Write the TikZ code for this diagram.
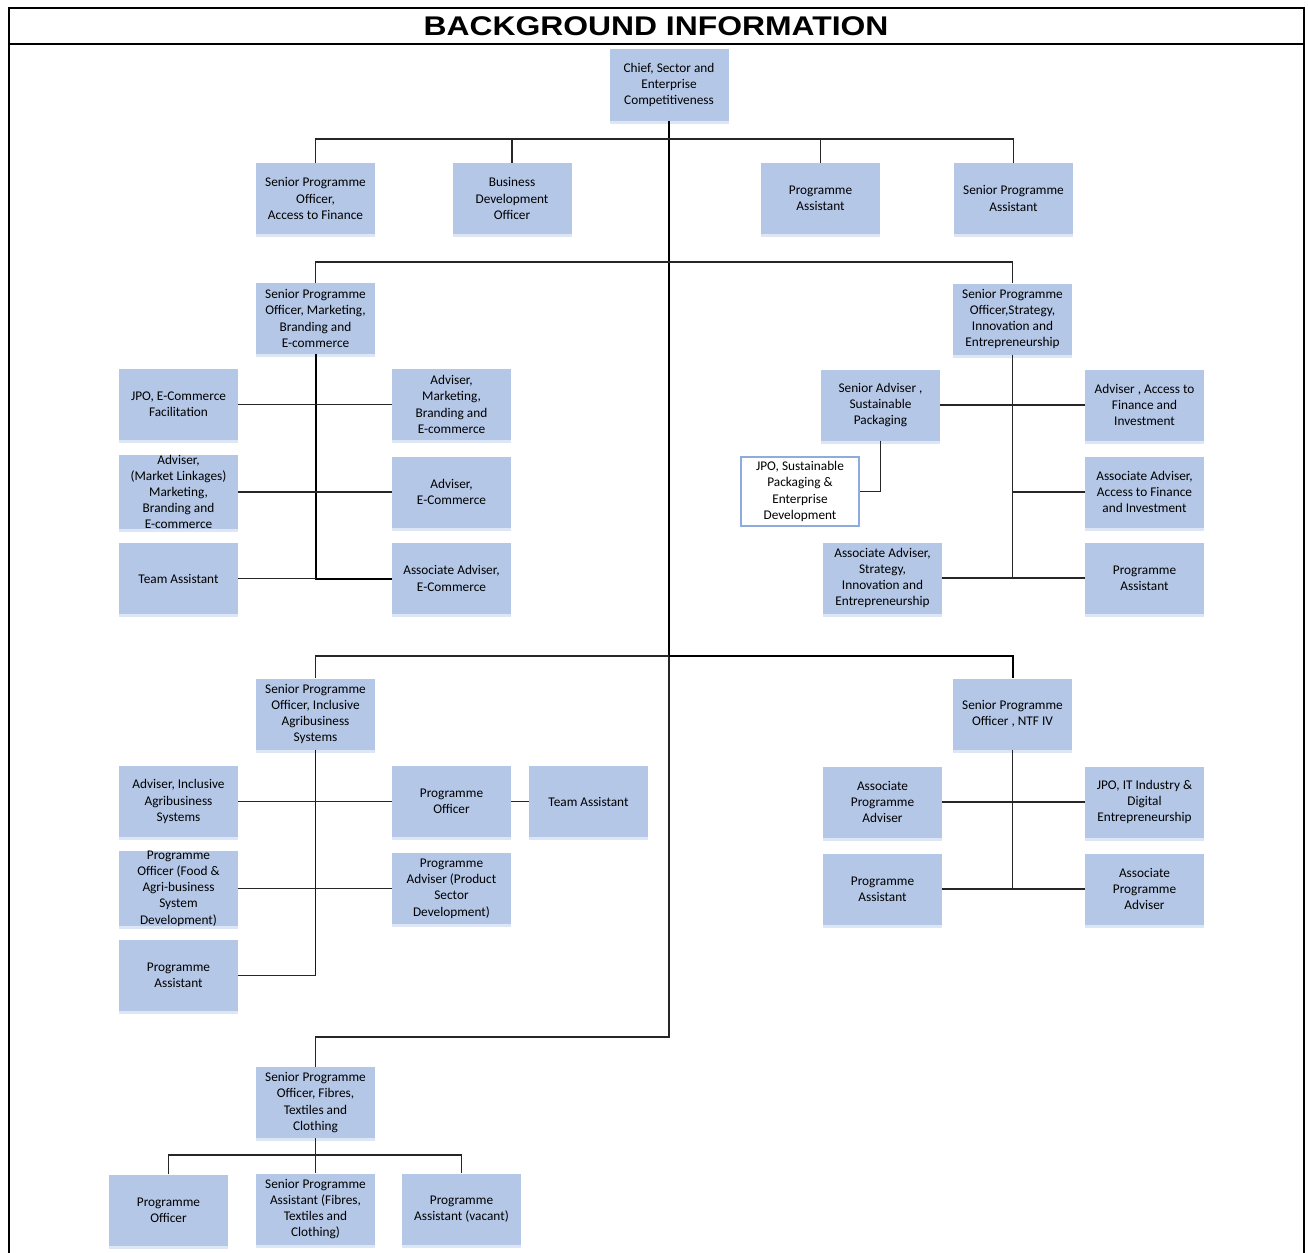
\documentclass[tikz,border=0pt]{standalone}
\usepackage{graphicx}
\usepackage{fontspec}
\setmainfont{Carlito}
\newfontfamily\titlefont{Liberation Sans}
\definecolor{boxblue}{RGB}{180,199,231}
\definecolor{boxshade}{RGB}{221,230,244}
\definecolor{jpoedge}{RGB}{143,170,220}
\begin{document}
\begin{tikzpicture}[x=1pt,y=-1pt,
  post/.style={fill=boxblue,
    preaction={fill=boxshade, transform canvas={yshift=-3pt}},
    minimum width=119pt, minimum height=71pt, inner sep=0pt,
    align=center, font=\fontsize{13.3}{16.2}\selectfont},
  jpo/.style={draw=jpoedge, line width=1.4pt, fill=white,
    minimum width=118pt, minimum height=69pt, inner sep=0pt,
    align=center, font=\fontsize{13.3}{16.2}\selectfont},
  link/.style={line width=1.1pt, draw=black!85},
  midlink/.style={line width=1.6pt, draw=black!90},
  trunk/.style={line width=2pt, draw=black},
  frame/.style={line width=2.6pt, draw=black}]
\useasboundingbox (0,0) rectangle (1308,1252);

% page frame and heading
\draw[frame] (9,1253) -- (9,8) -- (1304,8) -- (1304,1253);
\draw[frame] (9,44) -- (1304,44);
\node (title) at (656,26) {\titlefont\bfseries\fontsize{27}{30}\selectfont\scalebox{1.18}[1]{BACKGROUND INFORMATION}};

% head of section
\node[post, minimum height=72pt] (chief) at (669,85) {Chief, Sector and\\Enterprise\\Competitiveness};

% direct reports
\node[post] (spoA2F) at (315.5,198.5) {Senior Programme\\Officer,\\Access to Finance};
\node[post] (bdo) at (512,198.5) {Business\\Development\\Officer};
\node[post] (paTop) at (820.5,198.5) {Programme\\Assistant};
\node[post] (spaTop) at (1013.5,198.5) {Senior Programme\\Assistant};

% marketing, branding and e-commerce
\node[post] (spoMkt) at (315.5,318.5) {Senior Programme\\Officer, Marketing,\\Branding and\\E-commerce};
\node[post] (jpoEC) at (178.5,404.5) {JPO, E-Commerce\\Facilitation};
\node[post] (advML) at (178.5,492) {Adviser,\\(Market Linkages)\\Marketing,\\Branding and\\E-commerce};
\node[post] (teamMkt) at (178.5,578.5) {Team Assistant};
\node[post] (advMkt) at (451.5,404.5) {Adviser,\\Marketing,\\Branding and\\E-commerce};
\node[post] (advEC) at (451.5,492) {Adviser,\\E-Commerce};
\node[post] (assocEC) at (451.5,578.5) {Associate Adviser,\\E-Commerce};

% strategy, innovation and entrepreneurship
\node[post] (spoStr) at (1012.5,319) {Senior Programme\\Officer,Strategy,\\Innovation and\\Entrepreneurship};
\node[post] (sadvSP) at (880.5,405) {Senior Adviser ,\\Sustainable\\Packaging};
\node[jpo] (jpoSP) at (800,491.5) {JPO, Sustainable\\Packaging \&\\Enterprise\\Development};
\node[post] (assocStr) at (882.5,578) {Associate Adviser,\\Strategy,\\Innovation and\\Entrepreneurship};
\node[post] (advA2F) at (1144.5,405) {Adviser , Access to\\Finance and\\Investment};
\node[post] (assocA2F) at (1144.5,492) {Associate Adviser,\\Access to Finance\\and Investment};
\node[post] (paStr) at (1144.5,578) {Programme\\Assistant};

% inclusive agribusiness systems
\node[post] (spoIAS) at (315.5,714) {Senior Programme\\Officer, Inclusive\\Agribusiness\\Systems};
\node[post] (advIAS) at (178.5,801.5) {Adviser, Inclusive\\Agribusiness\\Systems};
\node[post] (poFood) at (178.5,888.5) {Programme\\Officer (Food \&\\Agri-business\\System\\Development)};
\node[post] (paIAS) at (178.5,975.5) {Programme\\Assistant};
\node[post] (poIAS) at (451.5,801.5) {Programme\\Officer};
\node[post] (teamIAS) at (588.5,801.5) {Team Assistant};
\node[post] (padv) at (451.5,888.5) {Programme\\Adviser (Product\\Sector\\Development)};

% NTF IV
\node[post] (spoNTF) at (1012.5,714) {Senior Programme\\Officer , NTF IV};
\node[post] (apaL) at (882.5,802) {Associate\\Programme\\Adviser};
\node[post] (paNTF) at (882.5,889) {Programme\\Assistant};
\node[post] (jpoIT) at (1144.5,802) {JPO, IT Industry \&\\Digital\\Entrepreneurship};
\node[post] (apaR) at (1144.5,889) {Associate\\Programme\\Adviser};

% fibres, textiles and clothing
\node[post] (spoFTC) at (315.5,1102.5) {Senior Programme\\Officer, Fibres,\\Textiles and\\Clothing};
\node[post] (poFTC) at (168.5,1210) {Programme\\Officer};
\node[post] (spaFTC) at (315.5,1209) {Senior Programme\\Assistant (Fibres,\\Textiles and\\Clothing)};
\node[post] (paVac) at (461.5,1209) {Programme\\Assistant (vacant)};

% junction points
\coordinate (busA) at (669,139);
\coordinate (busB) at (669,262);
\coordinate (fork) at (669,656);
\coordinate (tail) at (669,1037);
\coordinate (mktEnd) at (315.5,578.5);
\coordinate (strMid) at (1012.5,492);
\coordinate (strEnd) at (1012.5,578);
\coordinate (iasEnd) at (315.5,975.5);
\coordinate (ntfEnd) at (1012.5,889);
\coordinate (busF) at (315.5,1155);

% main spine
\draw[trunk] (chief.south) -- (fork);
\draw[link] (fork) -- (tail) -| (spoFTC.north);

% first and second tiers
\draw[link] (spoA2F.north) |- (busA) -| (spaTop.north);
\draw[link] (bdo.north) |- (busA);
\draw[link] (paTop.north) |- (busA);
\draw[link] (spoMkt.north) |- (busB) -| (spoStr.north);

% marketing team
\draw[trunk] (spoMkt.south) -- (mktEnd) -- (assocEC.west);
\draw[link] (teamMkt.east) -- (mktEnd);
\draw[link] (jpoEC.east) -- (advMkt.west);
\draw[link] (advML.east) -- (advEC.west);

% strategy team
\draw[link] (spoStr.south) -- (strEnd);
\draw[link] (sadvSP.east) -- (advA2F.west);
\draw[link] (strMid) -- (assocA2F.west);
\draw[link] (assocStr.east) -- (paStr.west);
\draw[link] (sadvSP.south) |- (jpoSP.east);

% lower fork
\draw[link] (fork) -| (spoIAS.north);
\draw[trunk] (fork) -| (spoNTF.north);

% agribusiness team
\draw[midlink] (spoIAS.south) -- (iasEnd);
\draw[link] (iasEnd) -- (paIAS.east);
\draw[link] (advIAS.east) -- (poIAS.west);
\draw[link] (poIAS.east) -- (teamIAS.west);
\draw[link] (poFood.east) -- (padv.west);

% NTF IV team
\draw[link] (spoNTF.south) -- (ntfEnd);
\draw[link] (apaL.east) -- (jpoIT.west);
\draw[link] (paNTF.east) -- (apaR.west);

% fibres team
\draw[link] (spoFTC.south) -- (spaFTC.north);
\draw[link] (poFTC.north) |- (busF) -| (paVac.north);
\end{tikzpicture}
\end{document}
